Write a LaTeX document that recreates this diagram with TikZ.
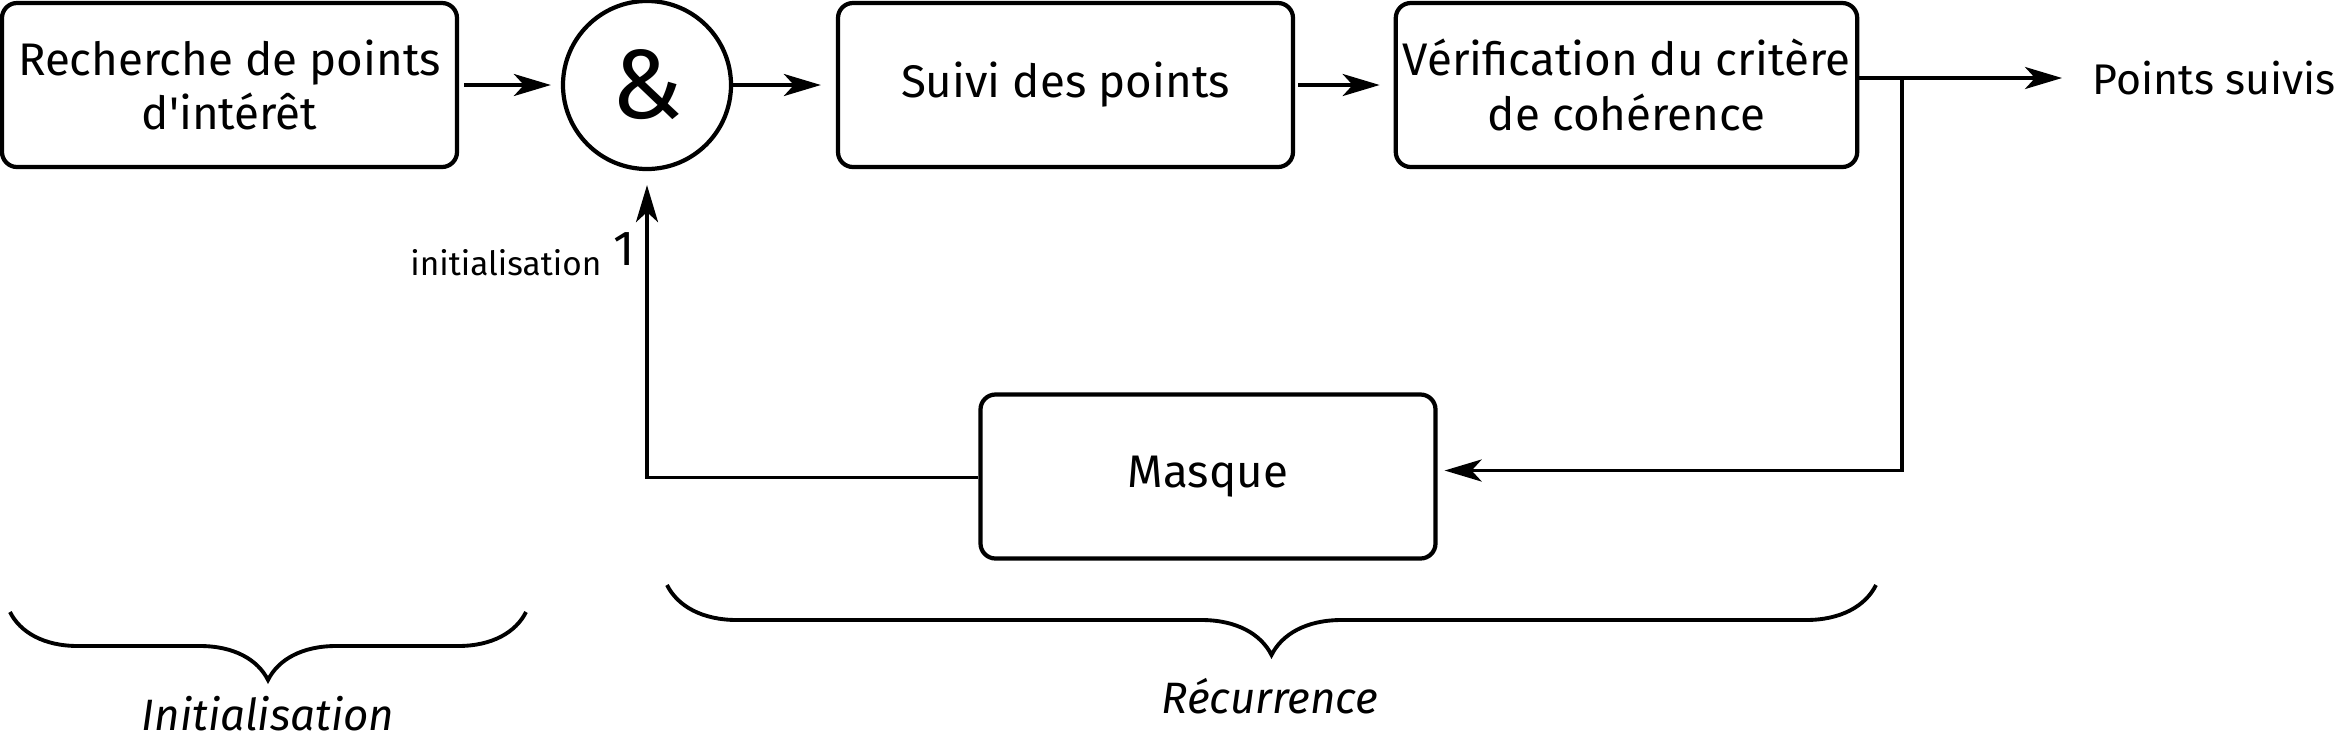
\documentclass[tikz,border=0pt]{standalone}
\usepackage{fontspec}
\setmainfont{Fira Sans}
\usepackage{tikz}
\usepackage{tkz-euclide}
\usetikzlibrary{arrows.meta,decorations.pathreplacing}

\tikzset{
  bloc/.style={draw, line width=1.2pt, rounded corners=0.15cm, minimum width=4.55cm,
    minimum height=1.64cm, inner sep=2pt, align=center, font=\fontsize{13}{15.5}\selectfont},
  fleche/.style={line width=1.1pt, -{Stealth[length=3.7mm,width=2.2mm,inset=1mm]}},
  accolade/.style={decorate, decoration={brace, mirror, amplitude=#1}, line width=1.1pt},
  legende/.style={font=\fontsize{12.5}{15}\selectfont\itshape, anchor=base},
}

\begin{document}
\begin{tikzpicture}
    \useasboundingbox (0,0) rectangle (23.38,-7.41);
    \tkzDefPoint(2.295,-0.85){R}
    \tkzDefPoint(6.47,-0.85){E}
    \tkzDefPoint(10.655,-0.85){S}
    \tkzDefPoint(16.265,-0.85){V}
    \tkzDefPoint(12.08,-4.765){M}
    \tkzDefPoint(19.02,-0.78){B}
    \node[bloc] (rech) at (R) {Recherche de points\\d\textquotesingle intérêt};
    \node[draw, circle, line width=1.2pt, minimum size=1.68cm, inner sep=0pt,
      font=\fontsize{28}{28}\selectfont] (et) at (E) {\&};
    \node[bloc] (suivi) at (S) {Suivi des points};
    \node[bloc] (verif) at (V) {Vérification du critère\\de cohérence};
    \node[bloc] (masque) at (M) {Masque};
    \node[anchor=west, inner sep=0pt, font=\fontsize{12.2}{15}\selectfont] (sortie) at (20.92,-0.78) {Points suivis};
    \node[anchor=base east, inner sep=0pt, font=\fontsize{9.5}{10}\selectfont] (init) at (6.02,-2.75) {initialisation};
    \node[anchor=base, inner sep=0pt, font=\fontsize{14}{14}\selectfont] (un) at (6.24,-2.65) {1};
    \draw[fleche, shorten <=0.05cm, shorten >=0.1cm] (rech) -- (et);
    \draw[fleche, shorten >=0.15cm] (et) -- (suivi);
    \draw[fleche, shorten <=0.03cm, shorten >=0.14cm] (suivi) -- (verif);
    \draw[fleche, shorten >=0.3cm] (verif.east |- sortie) -- (sortie.west);
    \draw[fleche, shorten >=0.07cm] (B) |- ([yshift=0.06cm]masque.east);
    \draw[fleche, shorten >=0.14cm] ([yshift=-0.01cm]masque.west) -| (et.south);
    \draw[accolade=0.68cm] (0.10,-6.12) -- (5.26,-6.12);
    \draw[accolade=0.70cm] (6.67,-5.85) -- (18.76,-5.85);
    \node[legende] (ini) at (2.68,-7.30) {Initialisation};
    \node[legende] (rec) at (12.70,-7.13) {Récurrence};
\end{tikzpicture}
\end{document}
